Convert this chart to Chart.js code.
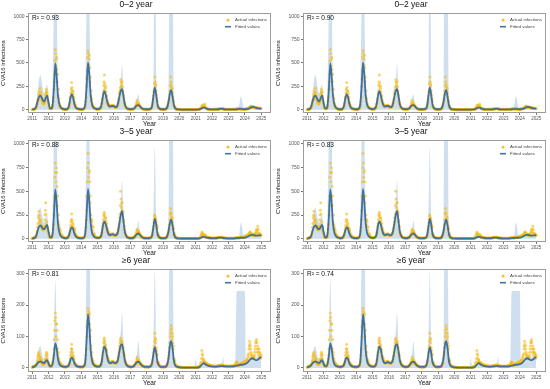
<!DOCTYPE html>
<html><head><meta charset="utf-8">
<script src="https://cdn.jsdelivr.net/npm/chart.js@4.4.1/dist/chart.umd.min.js"></script>
<style>
html,body{margin:0;padding:0;background:#fff;}
#wrap{position:relative;width:550px;height:389px;overflow:hidden;background:#fff;}
canvas{position:absolute;}
</style></head><body><div id="wrap"></div>
<script>
// ---------- data ----------
const startYear = 2011;           // first time point of every series
const yearTicks = [2011,2012,2013,2014,2015,2016,2017,2018,2019,2020,2021,2022,2023,2024,2025];
const ticksYoung = [0,250,500,750,1000];
const ticksOld = [0,100,200,300];
const panelTitles = ['0–2 year','3–5 year','≥6 year'];
const r2Left = ['0.93','0.88','0.81'];
const r2Right = ['0.90','0.83','0.74'];

// fitted values, monthly (Jan 2011 ... Jan 2025)
const fitted02 = [
3,5,10,35,90,135,150,130,100,90,125,150,
80,20,12,50,230,495,360,150,60,25,12,6,
5,5,12,40,120,165,135,65,25,12,8,6,
5,5,12,60,250,505,370,150,55,25,14,8,
6,8,18,60,150,195,160,90,50,35,38,40,
38,28,32,65,140,200,220,150,60,25,12,8,
6,6,8,18,35,48,50,38,22,10,6,5,
5,5,6,12,40,150,235,160,55,18,8,5,
5,5,8,25,80,170,210,140,50,15,6,4,
3,2,2,2,2,2,2,2,2,2,2,2,
2,2,3,6,12,20,25,20,12,8,5,4,
3,3,3,4,5,6,8,10,8,5,4,3,
3,3,3,3,3,4,5,6,8,10,8,6,
5,6,8,12,20,28,30,28,22,18,15,14,
12];
const fitted35 = [
3,5,10,30,80,125,140,125,105,100,125,145,
80,20,12,50,240,520,380,160,65,30,15,10,
6,6,12,35,85,120,105,55,25,12,8,6,
6,6,12,60,260,525,380,160,60,30,15,10,
8,8,16,50,140,180,155,95,50,38,42,45,
42,36,42,75,160,250,290,190,75,30,12,8,
6,6,8,18,35,50,55,42,25,12,7,5,
5,5,6,12,35,130,210,150,50,18,8,5,
5,5,8,25,75,160,200,140,50,15,6,4,
3,2,2,2,2,2,2,2,2,2,2,2,
2,2,3,6,12,18,20,16,12,10,8,6,
5,5,5,6,8,10,12,10,8,6,5,4,
4,4,4,4,4,5,6,7,8,10,10,10,
12,15,20,28,36,40,40,36,32,32,34,35,
35];
const fitted6 = [
2,3,5,9,15,19,21,19,16,16,21,25,
15,6,5,12,40,78,62,28,12,7,5,4,
3,3,5,10,24,33,28,15,8,5,4,3,
3,3,6,20,90,170,130,55,22,11,7,5,
4,4,7,18,50,68,60,36,20,15,16,18,
17,15,17,27,52,72,75,55,25,11,6,4,
3,3,4,8,14,19,20,16,10,6,4,3,
3,3,3,6,16,45,65,48,18,8,4,3,
3,3,4,10,30,70,85,62,22,8,4,3,
2,2,1,1,1,1,1,1,1,1,1,1,
1,1,2,4,8,13,15,12,9,7,6,5,
5,4,4,4,5,5,6,6,6,5,5,5,
5,5,5,5,5,6,7,8,9,10,10,11,
12,14,17,22,27,30,30,27,25,25,28,32,
35];

// upper limit of the shaded band, monthly
const upper02 = [
5,8,15,55,170,310,370,310,210,175,235,270,
130,30,18,200,1100,2000,1200,250,70,28,14,8,
6,6,14,50,160,240,180,80,30,14,10,8,
6,6,14,200,1100,2000,1100,250,70,28,16,10,
8,10,22,75,200,270,210,110,60,42,46,50,
46,34,40,85,190,300,490,200,75,28,14,10,
8,8,10,22,55,120,165,65,28,12,8,6,
6,6,8,15,50,300,2500,400,65,20,10,6,
6,6,10,30,160,2000,2000,1500,90,18,8,5,
5,3,3,3,3,3,3,3,3,3,3,3,
3,3,4,8,15,26,32,26,16,10,7,5,
4,4,4,5,6,8,10,13,10,7,5,4,
4,4,4,4,4,5,6,10,60,145,100,20,
8,8,10,15,25,36,40,36,28,22,18,17,
15];
const upper35 = [
5,8,15,45,140,270,330,270,190,175,225,250,
130,30,18,200,1100,2000,1200,250,75,32,18,12,
8,8,16,45,120,170,140,70,30,15,10,8,
8,8,16,200,1100,2000,1100,250,75,35,18,12,
10,10,20,70,190,250,200,120,60,45,48,55,
50,44,50,95,210,340,610,240,90,35,15,10,
8,8,10,22,50,110,190,75,30,15,9,7,
6,6,8,15,45,220,970,230,60,20,10,6,
6,6,10,30,160,2000,2000,1500,90,18,8,5,
4,3,3,3,3,3,3,3,3,3,3,3,
3,3,4,8,15,23,26,20,15,12,10,8,
6,6,6,7,10,12,15,12,10,8,6,5,
5,5,5,5,5,6,8,12,50,170,120,20,
15,18,25,34,44,50,50,45,40,40,42,44,
42];
const upper6 = [
3,5,8,16,42,62,70,52,32,30,36,40,
25,9,7,20,90,280,140,45,18,10,7,5,
4,4,7,14,45,70,50,22,11,7,5,4,
4,4,8,40,380,600,500,80,30,15,9,7,
5,5,9,25,70,90,80,48,26,19,20,22,
20,18,20,34,75,115,175,80,32,15,8,6,
4,4,5,11,22,48,86,35,14,8,5,4,
4,4,4,8,22,75,310,80,25,10,6,4,
4,4,5,14,45,600,600,400,35,10,6,4,
3,3,2,2,2,2,2,2,2,2,2,2,
31,2,3,6,11,18,21,16,12,9,8,7,
6,5,5,5,6,7,8,8,35,8,6,6,
6,6,6,6,6,8,245,245,245,245,245,245,
245,20,22,30,38,42,42,38,35,35,38,44,
48];

// actual infections, half-monthly (two readings per half month)
const actual02 = [
2,4,6,8,12,10,25,45,80,120,170,110,230,140,120,95,70,60,75,100,160,220,190,110,
70,25,12,18,10,15,35,90,220,380,640,470,560,300,150,80,45,30,20,15,10,8,6,5,
5,4,6,5,10,12,30,60,120,180,290,150,200,110,60,40,25,18,12,10,8,7,6,5,
5,4,6,6,12,15,40,90,250,420,630,480,580,300,150,90,50,35,25,18,14,10,8,7,
6,8,10,8,20,25,60,100,170,260,370,200,250,130,80,60,45,35,30,40,45,35,50,40,
35,30,25,28,30,40,70,100,170,210,320,250,300,200,150,90,55,35,20,15,10,8,8,6,
6,5,6,8,8,10,15,25,40,60,100,45,70,50,40,30,20,15,10,8,6,5,5,4,
5,4,5,6,6,8,10,15,40,80,150,210,350,250,200,120,45,30,15,12,8,6,5,4,
5,4,5,6,8,12,25,45,80,120,200,350,270,210,180,100,45,30,12,10,6,5,4,3,
3,2,2,1,1,1,1,1,1,2,1,1,2,1,1,2,1,1,2,1,1,2,1,1,
2,1,2,3,4,3,8,12,20,35,50,30,40,60,25,15,12,8,6,5,4,5,3,4,
4,3,4,5,5,4,6,5,8,6,10,8,12,10,14,10,8,6,5,4,4,3,3,4,
3,4,3,3,4,3,4,5,3,4,5,6,8,10,12,15,8,6,10,8,6,5,5,4,
6,8,10,8,12,15,20,25,30,40,35,30,28,25,30,20,22,18,20,15,18,14,15,12,
10];
const actual02b = [
3,5,7,6,10,14,35,60,100,150,200,170,190,160,110,80,75,65,85,130,190,170,150,90,
50,18,14,12,12,20,50,130,300,520,600,540,430,380,220,120,60,40,25,18,12,9,7,5,
4,5,5,6,11,15,40,80,140,220,240,200,170,130,80,50,30,20,14,11,9,7,6,5,
4,5,5,7,13,20,55,130,330,560,600,540,450,350,200,120,60,40,30,20,12,10,8,6,
7,9,9,10,22,30,70,120,200,300,280,230,190,150,100,70,50,40,35,38,42,40,45,42,
32,28,27,30,35,45,80,120,190,240,290,260,240,170,120,70,45,30,18,13,10,8,7,6,
5,6,7,7,9,12,18,30,45,80,70,55,60,45,35,25,18,12,9,7,6,5,5,4,
4,5,6,5,7,9,12,20,55,110,190,280,300,270,160,90,40,25,14,10,7,5,5,4,
4,5,6,5,10,15,30,60,100,160,260,300,240,230,140,80,40,25,12,8,6,5,4,3,
2,3,1,2,1,2,1,1,2,1,1,2,1,1,2,1,1,1,1,2,1,1,1,2,
1,2,3,2,3,5,10,15,25,45,40,35,30,45,20,12,10,7,6,5,4,4,4,3,
3,4,5,4,4,5,5,6,7,8,9,10,14,12,12,15,10,7,5,5,3,4,4,3,
4,3,3,4,3,4,5,4,4,5,6,5,7,9,10,12,10,7,8,9,5,6,4,5,
7,9,9,10,14,18,22,30,35,30,32,28,25,30,25,22,20,22,18,16,15,16,13,12];
const actual35 = [
2,4,6,8,12,15,30,60,120,220,290,180,200,120,140,100,90,110,130,250,380,150,120,80,
60,20,12,15,10,18,40,100,250,450,800,600,700,350,180,100,120,60,40,30,20,15,10,8,
6,5,6,8,10,14,30,60,110,180,260,130,150,90,100,60,30,25,15,12,8,7,6,5,
6,5,6,8,12,18,50,120,300,600,900,650,720,380,200,150,180,90,50,35,20,15,12,10,
8,10,10,12,18,25,60,100,160,240,280,180,220,130,100,70,50,40,40,45,50,40,55,45,
40,35,35,40,40,55,80,120,180,260,500,330,380,250,180,100,60,40,25,20,12,10,8,7,
6,5,6,8,8,10,15,25,40,60,100,50,80,55,45,30,22,15,12,8,7,6,5,4,
5,4,5,6,6,8,10,15,30,70,130,200,250,220,180,110,45,30,15,12,8,6,5,4,
5,4,5,6,8,12,25,45,70,110,200,320,260,200,170,100,45,30,12,10,6,5,4,3,
3,2,2,1,1,1,1,1,1,2,1,1,2,1,1,2,1,1,2,1,1,2,1,1,
2,1,2,3,4,3,8,15,40,70,50,35,30,45,25,20,15,12,10,8,8,6,6,5,
5,4,5,6,6,5,8,7,10,12,14,10,15,12,18,10,10,8,6,5,5,4,4,5,
4,5,4,4,5,4,4,5,5,4,6,7,8,10,12,8,8,10,12,15,10,12,15,18,
20,25,30,25,35,40,50,60,70,40,55,45,40,35,50,30,60,100,40,130,60,45,50,40,
35];
const actual35b = [
3,5,7,9,14,20,40,80,160,250,240,200,170,140,120,110,100,120,200,300,260,180,100,70,
45,18,14,14,12,22,60,150,350,650,700,750,550,450,250,150,100,80,50,35,25,18,12,9,
5,6,7,8,12,18,40,80,140,200,200,170,120,110,80,50,35,25,18,14,10,8,7,6,
5,6,7,10,15,30,80,200,450,750,800,700,600,450,250,200,130,120,60,45,25,18,14,11,
9,10,11,14,20,30,70,130,200,260,250,220,190,160,110,80,60,50,45,42,45,48,50,42,
38,36,38,42,45,60,100,150,220,350,420,380,300,280,200,130,70,50,30,22,15,12,9,8,
5,6,7,8,9,12,20,35,55,80,90,70,65,60,40,35,25,18,14,10,8,7,6,5,
4,5,6,7,7,9,12,20,45,100,170,240,210,200,150,130,60,40,20,14,10,7,6,5,
4,5,6,7,10,15,35,60,90,150,260,280,230,220,140,110,60,40,15,12,8,6,5,4,
2,3,1,2,1,2,1,1,2,1,1,2,1,1,2,1,1,1,1,2,1,1,1,2,
1,2,3,2,3,5,12,25,50,60,45,40,35,40,30,22,18,14,12,10,9,7,6,6,
4,5,6,5,5,6,7,8,12,14,12,12,14,15,14,12,9,7,6,6,4,5,5,4,
5,4,5,5,4,5,5,4,5,6,7,8,9,12,10,9,9,12,14,12,14,15,18,22,
22,28,28,32,38,45,55,70,55,50,50,40,38,45,40,50,80,70,90,100,50,55,45,38];
const actual6 = [
2,3,4,6,5,8,10,15,25,40,50,20,35,18,20,12,15,10,20,15,30,50,40,20,
15,8,5,6,4,8,15,30,60,120,175,100,140,60,40,25,18,12,10,8,7,5,5,4,
3,4,4,5,6,5,10,15,30,50,75,35,40,25,20,12,10,8,6,5,5,4,4,3,
3,4,4,5,6,8,20,40,100,150,190,160,170,100,60,40,30,20,15,10,8,7,6,5,
5,4,5,6,8,10,20,30,50,80,95,60,70,50,40,30,25,20,18,15,20,18,22,20,
18,16,16,14,18,20,30,40,60,80,95,70,85,60,50,35,25,18,12,10,8,6,5,4,
4,3,4,5,5,6,8,10,15,20,35,15,25,18,16,12,10,8,7,5,5,4,4,3,
3,4,3,4,4,5,6,8,15,25,50,70,110,80,65,40,20,15,10,7,5,4,4,3,
3,4,4,5,5,6,10,15,30,50,80,110,135,90,100,60,30,20,10,8,5,4,4,3,
2,2,2,1,1,1,1,1,1,1,1,1,1,1,1,1,1,1,1,1,1,1,1,1,
1,2,2,3,3,4,5,10,20,55,40,20,25,15,18,12,15,10,12,8,10,7,8,6,
6,5,5,6,5,4,6,5,6,7,8,6,7,8,10,7,8,6,6,5,5,6,5,4,
5,6,5,4,6,5,6,7,6,8,10,15,20,12,10,8,10,12,14,10,12,15,18,20,
15,20,25,20,30,40,60,85,70,50,40,30,35,30,40,60,80,90,50,70,40,60,45,30,
40];
const actual6b = [
3,4,5,5,7,9,12,20,35,45,40,30,28,25,16,14,12,14,18,25,40,45,30,18,
12,7,6,5,6,10,20,40,90,150,160,140,120,90,50,30,20,15,12,9,6,6,4,5,
4,3,5,4,5,7,12,20,40,60,60,50,35,30,16,14,9,7,6,6,4,5,3,4,
4,3,5,6,7,12,28,60,130,170,180,175,140,120,70,50,25,22,12,11,7,8,5,6,
4,5,6,5,9,12,25,40,65,90,85,75,60,55,35,32,22,18,16,17,19,20,20,19,
17,15,15,15,19,22,35,50,70,90,85,80,75,65,45,40,20,20,11,9,7,7,4,5,
3,4,5,4,6,5,9,12,18,28,25,20,22,20,14,13,9,9,6,6,4,5,3,4,
4,3,4,3,5,4,7,10,20,35,60,85,95,90,55,45,18,16,8,8,4,5,3,4,
4,3,5,4,6,5,12,20,40,65,100,120,125,110,80,70,25,22,9,9,4,5,3,4,
1,2,1,2,1,1,1,1,1,1,1,1,1,1,1,1,1,1,1,1,1,1,1,1,
2,1,3,2,4,3,7,15,30,45,30,25,20,18,15,14,12,11,10,9,8,8,7,7,
5,6,6,5,4,5,5,6,7,6,7,7,9,9,8,8,7,7,5,6,6,5,4,5,
6,5,4,5,5,6,7,6,7,9,12,18,15,14,9,9,11,11,12,13,14,14,19,18,
18,22,22,25,35,45,70,75,60,45,35,35,32,35,50,70,85,80,60,60,50,50,35,35];

// ---------- drawing ----------
const FF = '"Liberation Sans", Arial, Helvetica, sans-serif';
const groups = [
  {fitted: fitted02, upper: upper02, actual: actual02, actualB: actual02b, ticks: ticksYoung, min: -35, max: 1032},
  {fitted: fitted35, upper: upper35, actual: actual35, actualB: actual35b, ticks: ticksYoung, min: -35, max: 1040},
  {fitted: fitted6,  upper: upper6,  actual: actual6,  actualB: actual6b,  ticks: ticksOld,   min: -13, max: 314}
];
const rowBoxes = [{top: 0, h: 128}, {top: 127, h: 130}, {top: 256, h: 131}];
const POINT = 'rgba(245,188,25,0.62)';
const LINE = 'rgba(52,104,152,0.92)';

const decor = {
  id: 'decor',
  afterDatasetsDraw(chart, args, opts) {
    const {ctx, chartArea: ca} = chart;
    ctx.save();
    ctx.strokeStyle = '#9c9c9c'; ctx.lineWidth = 1;
    ctx.strokeRect(Math.round(ca.left) + 0.5, Math.round(ca.top) + 0.5,
                   Math.round(ca.right - ca.left) - 1, Math.round(ca.bottom - ca.top) - 1);
    ctx.textBaseline = 'middle'; ctx.textAlign = 'left';
    ctx.fillStyle = '#111';
    ctx.font = '6.5px ' + FF;
    ctx.fillText('R² = ' + opts.r2, ca.left + 4, ca.top + 5);
    const lx = ca.right - 43, ly1 = ca.top + 7, ly2 = ca.top + 13.5;
    ctx.fillStyle = 'rgba(245,188,25,0.95)';
    ctx.beginPath(); ctx.arc(lx, ly1, 1.4, 0, Math.PI * 2); ctx.fill();
    ctx.strokeStyle = LINE; ctx.lineWidth = 1.6;
    ctx.beginPath(); ctx.moveTo(lx - 3, ly2); ctx.lineTo(lx + 3, ly2); ctx.stroke();
    ctx.fillStyle = '#444';
    ctx.font = '4.4px ' + FF;
    ctx.fillText('Actual infections', lx + 7, ly1);
    ctx.fillText('Fitted values', lx + 7, ly2);
    ctx.restore();
  }
};

const wrap = document.getElementById('wrap');
function makePanel(col, row) {
  const g = groups[row], box = rowBoxes[row];
  const cv = document.createElement('canvas');
  cv.width = 275; cv.height = box.h;
  cv.style.left = (col * 275) + 'px'; cv.style.top = box.top + 'px';
  cv.style.width = '275px'; cv.style.height = box.h + 'px';
  wrap.appendChild(cv);
  new Chart(cv, {
    type: 'line',
    data: {datasets: [
      {label: 'Fitted values', data: g.fitted.map((v, i) => ({x: startYear + i / 12, y: v})),
       borderColor: LINE, borderWidth: 1.8, pointRadius: 0,
       cubicInterpolationMode: 'monotone', fill: false, order: 1},
      {type: 'scatter', label: 'Actual infections', data: g.actual.map((v, i) => ({x: startYear + i / 24, y: v})),
       backgroundColor: POINT, borderWidth: 0, pointRadius: 1.5, order: 2},
      {type: 'scatter', label: 'Actual infections (2nd reading)', data: g.actualB.map((v, i) => ({x: startYear + i / 24 + 1 / 48, y: v})),
       backgroundColor: POINT, borderWidth: 0, pointRadius: 1.5, order: 2},
      {label: 'Upper', data: g.upper.map((v, i) => ({x: startYear + i / 12, y: v})),
       borderWidth: 0, borderColor: 'rgba(0,0,0,0)', backgroundColor: 'rgba(168,196,226,0.55)',
       fill: 'origin', pointRadius: 0, cubicInterpolationMode: 'monotone', order: 3}
    ]},
    options: {
      responsive: false, animation: false, events: [],
      layout: {padding: {left: 0, right: 3, top: 0, bottom: 0}},
      plugins: {
        legend: {display: false}, tooltip: {enabled: false},
        title: {display: true, text: panelTitles[row], color: '#111',
                font: {size: 8.5, family: FF, weight: 'normal'}, padding: {top: 0, bottom: 3}},
        decor: {r2: (col === 0 ? r2Left : r2Right)[row]}
      },
      scales: {
        x: {type: 'linear', min: 2010.75, max: 2025.6,
            afterBuildTicks: s => { s.ticks = yearTicks.map(v => ({value: v})); },
            afterFit: s => { s.height = 15; },
            ticks: {font: {size: 4.5, family: FF}, color: '#555', padding: 1, maxRotation: 0, autoSkip: false,
                    callback: v => String(v)},
            grid: {drawOnChartArea: false, tickLength: 2, color: '#777'},
            border: {display: false},
            title: {display: true, text: 'Year', color: '#111', font: {size: 6.5, family: FF}, padding: 0}},
        y: {min: g.min, max: g.max,
            afterBuildTicks: s => { s.ticks = g.ticks.map(v => ({value: v})); },
            afterFit: s => { s.width = 28; },
            ticks: {font: {size: 5, family: FF}, color: '#555', padding: 1.5, callback: v => String(v)},
            grid: {drawOnChartArea: false, tickLength: 2, color: '#777'},
            border: {display: false},
            title: {display: true, text: 'CVA16 infections', color: '#111', font: {size: 6, family: FF}, padding: 0}}
      }
    },
    plugins: [decor]
  });
}
for (let r = 0; r < 3; r++) for (let c = 0; c < 2; c++) makePanel(c, r);
</script></body></html>
